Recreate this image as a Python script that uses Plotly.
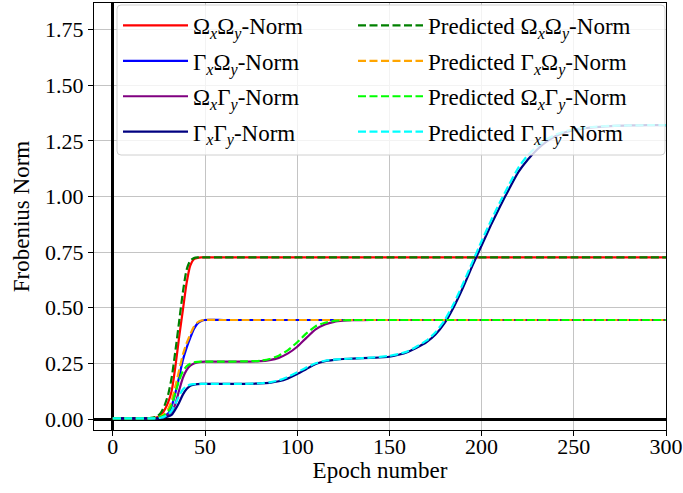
import plotly.graph_objects as go

# ---------------- data ----------------
EPOCHS = [0, 10, 20, 24, 26, 28, 30, 32, 34, 36, 38, 40, 42, 44, 46, 48, 50,
          60, 70, 80, 85, 90, 95, 100, 105, 110, 115, 120, 125, 130, 140,
          150, 155, 160, 165, 170, 175, 180, 185, 190, 195, 200, 205, 210, 215,
          220, 225, 230, 235, 240, 245, 250, 260, 270, 280, 290, 300]

OMX_OMY = [0.003, 0.003, 0.004, 0.008, 0.018, 0.04, 0.075, 0.13, 0.24, 0.37, 0.49, 0.61, 0.69, 0.718, 0.724, 0.726, 0.726,
           0.726, 0.726, 0.726, 0.726, 0.726, 0.726, 0.726, 0.726, 0.726, 0.726, 0.726, 0.726, 0.726, 0.726,
           0.726, 0.726, 0.726, 0.726, 0.726, 0.726, 0.726, 0.726, 0.726, 0.726, 0.726, 0.726, 0.726, 0.726,
           0.726, 0.726, 0.726, 0.726, 0.726, 0.726, 0.726, 0.726, 0.726, 0.726, 0.726, 0.726]

GAX_OMY = [0.003, 0.003, 0.003, 0.004, 0.008, 0.015, 0.025, 0.06, 0.12, 0.19, 0.265, 0.32, 0.365, 0.405, 0.43, 0.441, 0.445,
           0.445, 0.445, 0.445, 0.445, 0.445, 0.445, 0.445, 0.445, 0.445, 0.445, 0.445, 0.445, 0.445, 0.445,
           0.445, 0.445, 0.445, 0.445, 0.445, 0.445, 0.445, 0.445, 0.445, 0.445, 0.445, 0.445, 0.445, 0.445,
           0.445, 0.445, 0.445, 0.445, 0.445, 0.445, 0.445, 0.445, 0.445, 0.445, 0.445, 0.445]

OMX_GAY = [0.003, 0.003, 0.003, 0.003, 0.006, 0.01, 0.02, 0.035, 0.07, 0.13, 0.185, 0.22, 0.24, 0.25, 0.255, 0.257, 0.258,
           0.258, 0.258, 0.26, 0.265, 0.275, 0.295, 0.325, 0.365, 0.403, 0.425, 0.437, 0.442, 0.444, 0.445,
           0.445, 0.445, 0.445, 0.445, 0.445, 0.445, 0.445, 0.445, 0.445, 0.445, 0.445, 0.445, 0.445, 0.445,
           0.445, 0.445, 0.445, 0.445, 0.445, 0.445, 0.445, 0.445, 0.445, 0.445, 0.445, 0.445]

GAX_GAY = [0.003, 0.003, 0.003, 0.003, 0.004, 0.007, 0.012, 0.02, 0.045, 0.075, 0.11, 0.135, 0.15, 0.155, 0.157, 0.158, 0.158,
           0.158, 0.158, 0.16, 0.163, 0.17, 0.183, 0.202, 0.225, 0.247, 0.26, 0.266, 0.27, 0.272, 0.275,
           0.28, 0.289, 0.302, 0.322, 0.345, 0.38, 0.432, 0.505, 0.592, 0.688, 0.78, 0.87, 0.955, 1.035,
           1.11, 1.165, 1.21, 1.245, 1.27, 1.287, 1.298, 1.31, 1.316, 1.319, 1.32, 1.32]

PRED_OMX_OMY = [0.003, 0.003, 0.005, 0.012, 0.028, 0.06, 0.11, 0.19, 0.31, 0.44, 0.57, 0.67, 0.712, 0.723, 0.726, 0.726, 0.726,
                0.726, 0.726, 0.726, 0.726, 0.726, 0.726, 0.726, 0.726, 0.726, 0.726, 0.726, 0.726, 0.726, 0.726,
                0.726, 0.726, 0.726, 0.726, 0.726, 0.726, 0.726, 0.726, 0.726, 0.726, 0.726, 0.726, 0.726, 0.726,
                0.726, 0.726, 0.726, 0.726, 0.726, 0.726, 0.726, 0.726, 0.726, 0.726, 0.726, 0.726]

PRED_GAX_OMY = [0.003, 0.003, 0.003, 0.006, 0.012, 0.024, 0.045, 0.085, 0.15, 0.22, 0.29, 0.34, 0.38, 0.415, 0.435, 0.443, 0.445,
                0.445, 0.445, 0.445, 0.445, 0.445, 0.445, 0.445, 0.445, 0.445, 0.445, 0.445, 0.445, 0.445, 0.445,
                0.445, 0.445, 0.445, 0.445, 0.445, 0.445, 0.445, 0.445, 0.445, 0.445, 0.445, 0.445, 0.445, 0.445,
                0.445, 0.445, 0.445, 0.445, 0.445, 0.445, 0.445, 0.445, 0.445, 0.445, 0.445, 0.445]

PRED_OMX_GAY = [0.003, 0.003, 0.003, 0.005, 0.01, 0.018, 0.035, 0.065, 0.12, 0.175, 0.215, 0.237, 0.249, 0.255, 0.257, 0.258, 0.258,
                0.258, 0.259, 0.262, 0.27, 0.285, 0.31, 0.345, 0.385, 0.417, 0.433, 0.441, 0.444, 0.445, 0.445,
                0.445, 0.445, 0.445, 0.445, 0.445, 0.445, 0.445, 0.445, 0.445, 0.445, 0.445, 0.445, 0.445, 0.445,
                0.445, 0.445, 0.445, 0.445, 0.445, 0.445, 0.445, 0.445, 0.445, 0.445, 0.445, 0.445]

PRED_GAX_GAY = [0.003, 0.003, 0.003, 0.004, 0.006, 0.011, 0.02, 0.038, 0.07, 0.105, 0.133, 0.148, 0.155, 0.157, 0.158, 0.158, 0.158,
                0.158, 0.158, 0.161, 0.165, 0.174, 0.19, 0.21, 0.232, 0.251, 0.262, 0.267, 0.27, 0.272, 0.276,
                0.284, 0.292, 0.305, 0.327, 0.352, 0.39, 0.445, 0.52, 0.61, 0.705, 0.8, 0.89, 0.975, 1.055,
                1.13, 1.185, 1.225, 1.255, 1.277, 1.292, 1.302, 1.312, 1.317, 1.319, 1.32, 1.32]

NAMES = ["Ω<sub><i>x</i></sub>Ω<sub><i>y</i></sub>-Norm",
         "Γ<sub><i>x</i></sub>Ω<sub><i>y</i></sub>-Norm",
         "Ω<sub><i>x</i></sub>Γ<sub><i>y</i></sub>-Norm",
         "Γ<sub><i>x</i></sub>Γ<sub><i>y</i></sub>-Norm"]
PRED_NAMES = ["Predicted " + n for n in NAMES]

X_TICKS = [0, 50, 100, 150, 200, 250, 300]
Y_TICKS = [0.0, 0.25, 0.5, 0.75, 1.0, 1.25, 1.5, 1.75]
Y_TICK_LABELS = ["0.00", "0.25", "0.50", "0.75", "1.00", "1.25", "1.50", "1.75"]

# ---------------- figure ----------------
FONT = "Liberation Serif"
W, H = 683, 493
ML, MR, MT, MB = 94, 17, 3, 63

fig = go.Figure()

actual = [OMX_OMY, GAX_OMY, OMX_GAY, GAX_GAY]
pred = [PRED_OMX_OMY, PRED_GAX_OMY, PRED_OMX_GAY, PRED_GAX_GAY]
colors = ["red", "blue", "purple", "navy"]
pcolors = ["green", "orange", "lime", "cyan"]

for i, (ys, c, n) in enumerate(zip(actual, colors, NAMES)):
    fig.add_trace(go.Scatter(x=EPOCHS, y=ys, mode="lines", name=n,
                             line=dict(color=c, width=2.2, shape="spline", smoothing=0.6),
                             legend="legend", legendgroup=f"a{i}"))
for i, (ys, c, n) in enumerate(zip(pred, pcolors, PRED_NAMES)):
    fig.add_trace(go.Scatter(x=EPOCHS, y=ys, mode="lines", name=n,
                             line=dict(color=c, width=2.2, dash="8px,3.5px", shape="spline", smoothing=0.6),
                             legend="legend2", legendgroup=f"p{i}"))

pw = W - ML - MR
ph = H - MT - MB

def px2paper_x(px):
    return (px - ML) / pw

def px2paper_y(py):
    return (H - MB - py) / ph

# legend frame (rounded rectangle, semi-transparent)
bx0, bx1, by0, by1, r = 117, 665, 5, 155, 4
path = (f"M{px2paper_x(bx0 + r)},{px2paper_y(by0)} L{px2paper_x(bx1 - r)},{px2paper_y(by0)} "
        f"Q{px2paper_x(bx1)},{px2paper_y(by0)} {px2paper_x(bx1)},{px2paper_y(by0 + r)} "
        f"L{px2paper_x(bx1)},{px2paper_y(by1 - r)} "
        f"Q{px2paper_x(bx1)},{px2paper_y(by1)} {px2paper_x(bx1 - r)},{px2paper_y(by1)} "
        f"L{px2paper_x(bx0 + r)},{px2paper_y(by1)} "
        f"Q{px2paper_x(bx0)},{px2paper_y(by1)} {px2paper_x(bx0)},{px2paper_y(by1 - r)} "
        f"L{px2paper_x(bx0)},{px2paper_y(by0 + r)} "
        f"Q{px2paper_x(bx0)},{px2paper_y(by0)} {px2paper_x(bx0 + r)},{px2paper_y(by0)} Z")
fig.add_shape(type="path", path=path, xref="paper", yref="paper",
              fillcolor="rgba(255,255,255,0.8)", line=dict(color="#d0d0d0", width=1), layer="above")

leg_common = dict(bgcolor="rgba(0,0,0,0)", borderwidth=0, yanchor="top",
                  font=dict(family=FONT, size=23, color="black"),
                  tracegroupgap=2.5, itemwidth=65, orientation="v")

fig.update_layout(
    width=W, height=H,
    margin=dict(l=ML, r=MR, t=MT, b=MB, autoexpand=False),
    paper_bgcolor="white", plot_bgcolor="white",
    font=dict(family=FONT, size=22, color="black"),
    legend=dict(x=px2paper_x(118), y=px2paper_y(4), xanchor="left", **leg_common),
    legend2=dict(x=px2paper_x(353), y=px2paper_y(4), xanchor="left", **leg_common),
    xaxis=dict(range=[-10.2, 300], tickvals=X_TICKS, ticktext=[str(t) for t in X_TICKS],
               ticks="outside", ticklen=5, tickwidth=1.2, tickcolor="black",
               showline=True, linecolor="black", linewidth=1.2, mirror=True,
               showgrid=True, gridcolor="#c4c4c4", gridwidth=1.1,
               zeroline=True, zerolinecolor="black", zerolinewidth=2.5,
               ticklabelstandoff=-9,
               title=dict(text="Epoch number", standoff=0, font=dict(size=23)),
               tickfont=dict(size=22)),
    yaxis=dict(range=[-0.049, 1.869], tickvals=Y_TICKS, ticktext=Y_TICK_LABELS,
               ticks="outside", ticklen=5, tickwidth=1.2, tickcolor="black",
               showline=True, linecolor="black", linewidth=1.2, mirror=True,
               showgrid=True, gridcolor="#c4c4c4", gridwidth=1.1,
               zeroline=True, zerolinecolor="black", zerolinewidth=2.5,
               title=dict(text="Frobenius Norm", standoff=8, font=dict(size=23)),
               tickfont=dict(size=22)),
)

fig.write_html("out.html", config={"displayModeBar": False},
               post_script="document.body.style.margin='0';document.body.style.overflow='hidden';")
